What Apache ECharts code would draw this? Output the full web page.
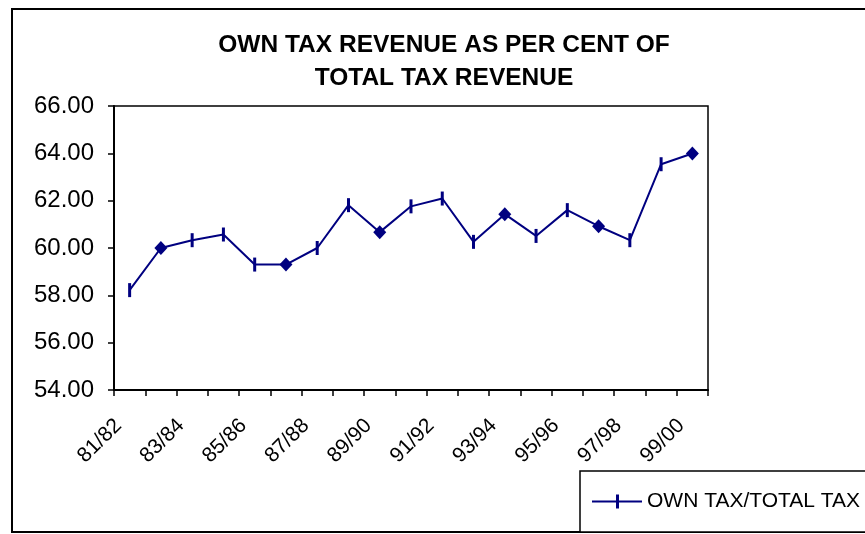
<!DOCTYPE html>
<html>
<head>
<meta charset="utf-8">
<script src="https://cdn.jsdelivr.net/npm/echarts@6/dist/echarts.min.js"></script>
<style>
html,body{margin:0;padding:0;background:#fff;}
#chart{width:865px;height:534px;}
</style>
</head>
<body>
<div id="chart"></div>
<script>
var categories = ['81/82','82/83','83/84','84/85','85/86','86/87','87/88','88/89','89/90','90/91',
                  '91/92','92/93','93/94','94/95','95/96','96/97','97/98','98/99','99/00'];
var ownTaxShare = [58.22, 60.00, 60.33, 60.57, 59.30, 59.30, 60.00, 61.81, 60.67, 61.76,
                   62.09, 60.26, 61.43, 60.51, 61.60, 60.92, 60.33, 63.54, 63.99];
var diamondPoints = ['82/83','86/87','89/90','93/94','96/97','99/00'];
var yTicks = [54, 56, 58, 60, 62, 64, 66];
var seriesName = 'OWN TAX/TOTAL TAX';
var titleText = 'OWN TAX REVENUE AS PER CENT OF\nTOTAL TAX REVENUE';

var navy = '#000080';
var font = 'Liberation Sans, Arial, sans-serif';

var seriesData = ownTaxShare.map(function (v, i) {
  if (diamondPoints.indexOf(categories[i]) >= 0) {
    return { value: v, symbol: 'diamond', symbolSize: [13, 14] };
  }
  return v;
});

var chart = echarts.init(document.getElementById('chart'));
chart.setOption({
  animation: false,
  backgroundColor: '#fff',
  title: {
    text: titleText,
    left: 444,
    top: 29,
    padding: 0,
    textAlign: 'center',
    textStyle: { fontFamily: font, fontSize: 24.5, fontWeight: 'bold', color: '#000', lineHeight: 33 }
  },
  graphic: [{
    type: 'rect',
    shape: { x: 12, y: 9, width: 870, height: 523 },
    style: { fill: 'none', stroke: '#000', lineWidth: 2 },
    silent: true,
    z: -1
  }],
  legend: {
    data: [{
      name: seriesName,
      icon: 'path://M0,7 L50,7 L50,9 L0,9 Z M24,1 L27,1 L27,15 L24,15 Z'
    }],
    left: 580,
    top: 471,
    padding: [20, 30, 20, 12],
    itemWidth: 50,
    itemHeight: 16,
    itemGap: 6,
    borderColor: '#000',
    borderWidth: 1.5,
    backgroundColor: '#fff',
    itemStyle: { color: navy, borderWidth: 0 },
    textStyle: { fontFamily: font, fontSize: 21, color: '#000' }
  },
  grid: {
    left: 114, right: 157, top: 106, bottom: 144,
    show: true, borderColor: '#000', borderWidth: 1.5, backgroundColor: 'transparent'
  },
  xAxis: {
    type: 'category',
    data: categories,
    boundaryGap: true,
    axisLine: { lineStyle: { color: '#000', width: 2 } },
    axisTick: { show: true, interval: 0, length: 6, lineStyle: { color: '#000', width: 1.5 } },
    axisLabel: {
      interval: 1, rotate: 45, margin: 21, padding: [0, 16, 0, 0],
      fontFamily: font, fontSize: 21, color: '#000'
    },
    splitLine: { show: false }
  },
  yAxis: {
    type: 'value',
    min: yTicks[0],
    max: yTicks[yTicks.length - 1],
    interval: 2,
    axisLine: { show: true, lineStyle: { color: '#000', width: 2 } },
    axisTick: { show: true, length: 6, lineStyle: { color: '#000', width: 1.5 } },
    axisLabel: {
      margin: 20, fontFamily: font, fontSize: 24, color: '#000',
      formatter: function (v) { return v.toFixed(2); }
    },
    splitLine: { show: false }
  },
  series: [{
    name: seriesName,
    type: 'line',
    data: seriesData,
    symbol: 'rect',
    symbolSize: [3, 14],
    showAllSymbol: true,
    lineStyle: { color: navy, width: 2 },
    itemStyle: { color: navy, borderWidth: 0 },
    emphasis: { disabled: true }
  }]
});
</script>
</body>
</html>
